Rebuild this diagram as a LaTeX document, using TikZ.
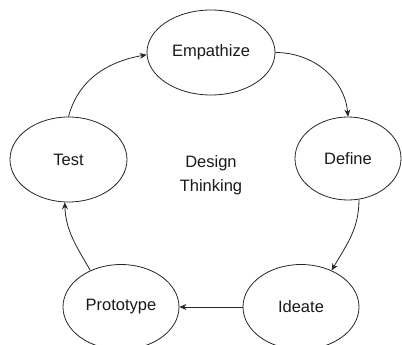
\documentclass[tikz,border=0pt]{standalone}
\usepackage{fontspec}
\setmainfont{Liberation Sans}
\usetikzlibrary{shapes.geometric,arrows.meta}
\begin{document}
\begin{tikzpicture}[x=1pt,y=1pt,>={Stealth[length=7pt,width=6pt]},
        phase/.style={ellipse, draw=black!85, line width=0.8pt, inner sep=0pt, minimum width=117pt, minimum height=85pt, text=black!90, font=\fontsize{16.5}{19}\selectfont},
        flow/.style={->, draw=black!85, line width=0.8pt}]
        			\useasboundingbox (0,0) rectangle (402,-345);
        			\clip (0,0) rectangle (402,-345);
        			\node[phase, minimum width=128pt] (emp) at (211,-52.5) {Empathize};
        			\node[phase, minimum width=106pt, minimum height=83pt] (def) at (348,-158.5) {Define};
        			\node[phase] (tst) at (68.5,-159.5) {Test};
        			\node[phase, minimum width=116pt] (pro) at (121,-307) {Prototype};
        			\node[phase, minimum width=116pt] (ide) at (301,-307) {Ideate};
        			\node[align=center, text=black!90, font=\fontsize{16.5}{24}\selectfont] (dt) at (211,-175) {Design\\Thinking};
        			\draw[flow] (tst.north) to[out=75, in=190] (emp.182);
        			\draw[flow] (emp.east) to[out=0, in=95] (def.north);
        			\draw[flow] (def.285) to[out=-90, in=60] (ide.50);
        			\draw[flow] (ide.west) -- (pro.east);
        			\draw[flow] (pro.130) to[out=120, in=-88] (tst.265);
    			\end{tikzpicture}
\end{document}
